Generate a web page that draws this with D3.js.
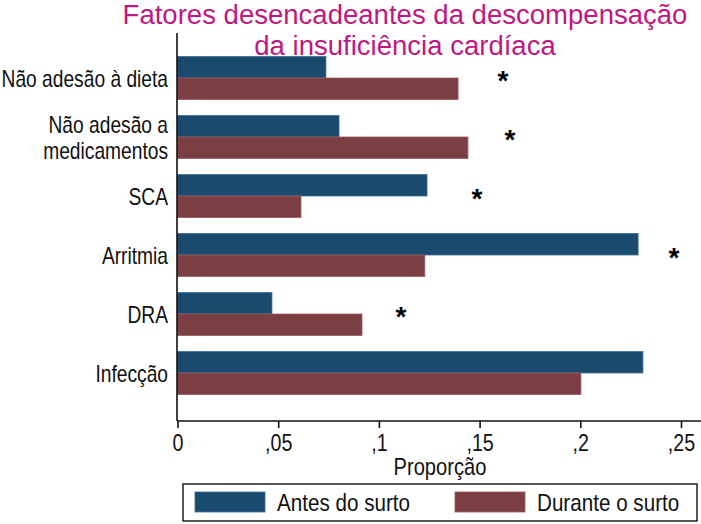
<!DOCTYPE html>
<html><head><meta charset="utf-8">
<script src="https://cdn.jsdelivr.net/npm/d3@7"></script>
<style>
body{margin:0;background:#fff;}
svg{display:block;}
text{font-family:"Liberation Sans",Arial,sans-serif;}
</style></head>
<body><svg id="c" width="701" height="524"></svg>
<script>
const titleLines = ["Fatores desencadeantes da descompensação", "da insuficiência cardíaca"];
const categories = ["Não adesão à dieta", "Não adesão a\nmedicamentos", "SCA", "Arritmia", "DRA", "Infecção"];
const antes = [0.0737, 0.0802, 0.1239, 0.2287, 0.0469, 0.2311];
const durante = [0.1393, 0.1442, 0.0613, 0.1228, 0.0916, 0.2003];
const starX = [0.1616, 0.1651, 0.1487, 0.2465, 0.111, null];
const tickValues = [0, 0.05, 0.1, 0.15, 0.2, 0.25];
const tickLabels = ["0", ",05", ",1", ",15", ",2", ",25"];
const seriesNames = ["Antes do surto", "Durante o surto"];
const xTitle = "Proporção";

const colors = ["#1b4a6f", "#7b3e42"];
const edge = ["#3a6e98", "#9a5a5e"];

const svg = d3.select("#c");
const x = d3.scaleLinear().domain([0, 0.25]).range([177.5, 681]);
const y = d3.scaleBand().domain(categories).range([48.5, 402.5]).paddingInner(16/59).paddingOuter(8/59);
const sub = d3.scaleBand().domain([0,1]).range([0, y.bandwidth()]);

function label(parent, tx, ty, str, size, anchor, sx, fill) {
  return parent.append("text")
    .attr("transform", `translate(${tx},${ty}) scale(${sx},1)`)
    .attr("text-anchor", anchor).attr("font-size", size).attr("fill", fill || "#111").text(str);
}

// title
titleLines.forEach((t, i) => label(svg, 405, 24 + i*31, t, 27, "middle", 1.02, "#c0187f"));

// bars
const g = svg.append("g");
categories.forEach((c, i) => {
  [antes[i], durante[i]].forEach((v, s) => {
    g.append("rect")
      .attr("x", x(0)).attr("y", y(c) + sub(s))
      .attr("width", x(v) - x(0)).attr("height", sub.bandwidth())
      .attr("fill", colors[s]).attr("stroke", edge[s]).attr("stroke-width", 0.8);
  });
});

// stars
categories.forEach((c, i) => {
  if (starX[i] == null) return;
  svg.append("text").attr("x", x(starX[i])).attr("y", y(c) + y.bandwidth()/2 - 3 + 15)
    .attr("text-anchor", "middle").attr("font-size", 28).attr("font-weight", "bold").text("*");
});

// y axis
svg.append("line").attr("x1", 177).attr("x2", 177).attr("y1", 33).attr("y2", 421)
  .attr("stroke", "#111").attr("stroke-width", 1.6);
categories.forEach(c => {
  const lines = c.split("\n");
  const cy = y(c) + y.bandwidth()/2;
  lines.forEach((l, j) => {
    label(svg, 168, cy + (j - (lines.length-1)/2) * 26 + 8.5, l, 24, "end", 0.8);
  });
});

// x axis
const xa = d3.axisBottom(x).tickValues(tickValues).tickFormat((d,i) => tickLabels[i]).tickSize(7).tickSizeOuter(0);
const ax = svg.append("g").attr("transform", "translate(0,421)").call(xa);
ax.select(".domain").attr("d", "M177,0H701").attr("stroke", "#111").attr("stroke-width", 1.6);
ax.selectAll(".tick line").attr("stroke", "#111").attr("stroke-width", 1.6);
ax.selectAll(".tick text").attr("font-size", 24).attr("fill", "#111").attr("dy", 0).attr("y", 0)
  .attr("transform", "translate(0,30) scale(0.82,1)")
  .style("font-family", "'Liberation Sans',Arial,sans-serif");
label(svg, 440, 475, xTitle, 24, "middle", 0.84);

// legend
const lg = svg.append("g");
lg.append("rect").attr("x", 183).attr("y", 484).attr("width", 514).attr("height", 37)
  .attr("fill", "#fff").attr("stroke", "#111").attr("stroke-width", 1.4);
const legX = [195, 455];
seriesNames.forEach((n, s) => {
  lg.append("rect").attr("x", legX[s]).attr("y", 492).attr("width", 70).attr("height", 20)
    .attr("fill", colors[s]).attr("stroke", edge[s]).attr("stroke-width", 0.8);
  label(lg, legX[s] + 82, 511, n, 24, "start", 0.86);
});
</script></body></html>
